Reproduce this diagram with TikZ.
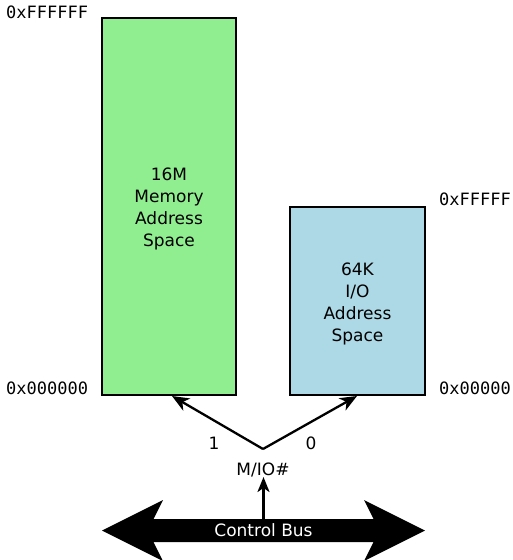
\documentclass[tikz,border=0pt]{standalone}
\usepackage{fontspec}
\setmainfont{DejaVu Sans}
\setmonofont{DejaVu Sans Mono}
\usetikzlibrary{arrows.meta}
\newcommand{\firstline}{\rule{0pt}{18.4pt}}
\begin{document}
\begin{tikzpicture}[x=1pt,y=-1pt,
  every node/.style={font=\fontsize{17}{22}\selectfont},
  space/.style={draw=black, line width=2.3pt, inner sep=0pt, align=center},
  addr/.style={font=\ttfamily\fontsize{17}{22}\selectfont, anchor=base west, inner sep=0pt},
  sig/.style={line width=2.3pt, -{Stealth[length=17pt,width=14pt,inset=5pt]}},
  bit/.style={inner sep=0pt}
]
\useasboundingbox (0,0) rectangle (513,560);

% address spaces
\node[space, fill={rgb,255:red,144;green,238;blue,144},
      minimum width=134pt, minimum height=377pt] (mem) at (169,206.5)
      {\firstline 16M\\Memory\\Address\\Space};
\node[space, fill={rgb,255:red,173;green,216;blue,230},
      minimum width=135pt, minimum height=188pt] (io) at (357.5,301)
      {\firstline 64K\\I/O\\Address\\Space};

% address bounds
\node[addr] (memtop) at (6,18.5) {0xFFFFFF};
\node[addr] (membot) at (6,394.5) {0x000000};
\node[addr] (iotop) at (439,205.5) {0xFFFFF};
\node[addr] (iobot) at (439,394.5) {0x00000};

% M/IO# selector
\coordinate (apex) at (263,449);
\coordinate (memin) at (172,396);
\coordinate (ioin) at (357,396);
\draw[sig] (apex) -- (memin);
\draw[sig] (apex) -- (ioin);
\node[bit] (one) at (214,443.5) {1};
\node[bit] (zero) at (311,443.5) {0};
\node[bit] (mio) at (263,469.5) {M/IO\#};

% control bus
\fill[black] (102,530.5) -- (163,500) -- (153.5,519) -- (373.5,519) -- (364,500)
  -- (425,530.5) -- (364,561) -- (373.5,542) -- (153.5,542) -- (163,561) -- cycle;
\node[text=white, inner sep=0pt] (bus) at (263.5,530.5) {Control Bus};
\coordinate (bustop) at (263.5,519);
\coordinate (miobot) at (263.5,477);
\draw[sig, -{Stealth[length=15pt,width=12pt,inset=4pt]}] (bustop) -- (miobot);
\end{tikzpicture}
\end{document}
